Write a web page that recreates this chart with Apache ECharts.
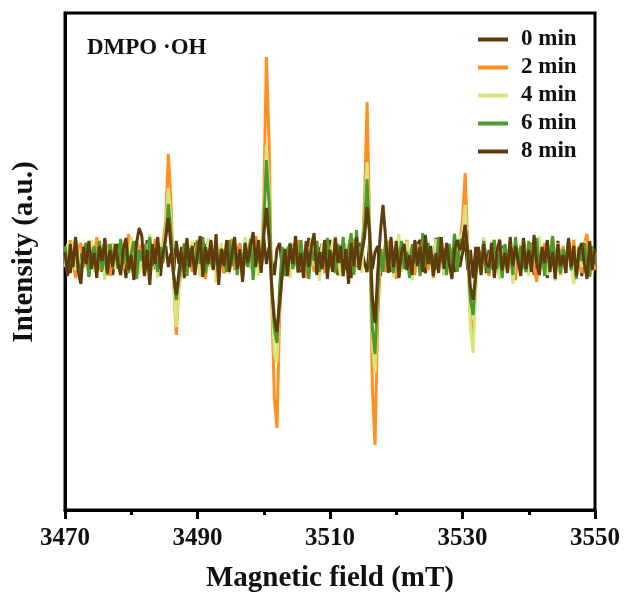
<!DOCTYPE html>
<html>
<head>
<meta charset="utf-8">
<script src="https://cdn.jsdelivr.net/npm/echarts@6/dist/echarts.min.js"></script>
<style>html,body{margin:0;padding:0;background:#fff;}#c{width:625px;height:601px;}</style>
</head>
<body>
<div id="c"></div>
<script>
// Magnetic field sweep grid (mT): start and step of the recorded points
var fieldStart = 3470;
var fieldStep = 0.4;
var xTicks = [3470, 3490, 3510, 3530, 3550];
var seriesNames = ['0 min', '2 min', '4 min', '6 min', '8 min'];

var min0 = [
-5,11,-15,8,18,-12,5,-9,15,-18,6,12,-8,3,-14,20,-6,9,-17,5,
14,-8,3,-20,11,6,-12,17,-5,9,-15,18,-3,8,-11,14,-18,6,12,-9,
5,-14,17,-6,11,-20,8,3,-12,15,-5,9,-17,14,-8,18,-3,-11,6,12,
-15,8,-5,18,-9,3,14,-18,6,-8,17,-12,9,5,-14,20,-6,11,-3,-17,
9,15,-11,5,-18,12,-6,8,17,-14,3,-9,20,-5,11,-15,6,14,-8,-3,
18,-12,5,-17,9,14,-6,3,-20,11,-9,15,8,-5,-14,17,-11,6,12,-18,
5,-8,15,-14,3,11,-18,9,-5,17,-12,6,-9,14,18,-6,-15,8,3,-11,
20,-5,9,-17,12,-3,6,-14,15,-9,5,18,-12,8,-20,11,-6,3,14,-15,
8,-11,17,-5,-18,12,3,-8,14,-15,6,9,-12,20,-3,-9,15,-17,5,11,
-6,14,-20,8,3,-12,17,-5,9,-15,18,-8,5,-11,12,-18,6,15,-9,3,
-8];

var min2 = [
8,-14,18,-5,-20,10,15,-9,4,-17,12,-3,21,-13,6,-8,14,-18,3,11,
-6,17,-11,5,24,-9,-16,8,13,-4,-18,14,6,-12,19,3,-8,16,36,104,
55,-25,-77,-30,-10,15,-6,10,-14,5,18,-11,8,-21,3,12,-5,16,-9,6,
-15,11,-3,19,-12,8,15,-18,5,-8,14,-4,22,9,-6,55,201,118,-40,-140,
-170,-55,-12,9,-17,6,14,-8,18,-11,5,-20,11,3,-14,17,-6,9,-15,8,
12,-9,21,-5,-18,8,14,-12,5,19,-8,11,-3,55,156,30,-130,-187,-60,-6,
9,-14,17,-8,5,-21,12,6,-11,18,-5,9,-17,14,3,-9,15,-12,6,-20,
11,-6,18,-14,5,12,-9,21,-3,14,38,85,10,-60,-80,-25,6,-12,16,-5,
-18,6,14,-11,19,-5,8,-15,12,3,-22,9,-6,17,-12,5,14,-9,-24,11,
-5,15,-14,8,20,-9,3,-17,12,-6,9,-3,18,-11,5,-15,14,24,-19,6,
-12];

var min4 = [
-9,14,-3,17,-12,6,-19,11,3,-8,18,-14,5,-6,12,-22,9,-2,15,-11,
8,-18,12,3,-9,21,-5,14,-16,6,11,-8,24,-12,5,-20,15,9,28,70,
38,-22,-69,-28,-5,12,-15,6,17,-9,3,-19,14,-6,20,-11,8,-25,5,15,
-8,12,-16,6,18,-5,9,-14,21,-3,-11,15,5,-18,8,35,113,70,-30,-95,
-105,-35,6,-14,11,-20,8,15,-9,5,-17,12,-3,19,-8,9,-23,14,-5,6,
-12,17,-6,11,-18,5,14,-9,21,-14,3,9,-15,40,96,22,-85,-115,-40,5,
-9,15,-5,12,-19,8,24,-14,3,17,-8,-22,11,5,-12,18,-6,14,-3,-9,
19,-12,6,-17,9,14,-6,25,-11,20,24,53,5,-70,-95,-30,6,-15,21,-8,
-5,17,-14,8,-21,3,12,-9,18,-26,6,-5,15,-11,9,-18,5,14,-8,22,
-12,3,-17,11,6,-23,15,-5,9,-14,19,-6,-26,8,12,-9,17,-3,11,-15,
5];

var min6 = [
12,-15,6,-9,18,-5,-14,9,15,-19,3,11,-8,17,-12,5,-17,14,-3,8,
-11,19,-6,9,-15,5,17,-21,8,-3,14,-12,21,-8,3,-14,11,-5,22,54,
25,-18,-42,-20,-8,14,-18,9,5,-12,17,-6,21,-15,8,-3,-11,15,-19,9,
5,-14,18,-8,12,-17,6,-5,15,-9,19,-22,11,3,-12,30,98,55,-25,-70,
-85,-30,11,-18,8,15,-11,5,-15,18,-6,12,-21,9,-3,17,-14,6,-8,20,
-9,5,-15,14,-5,21,-12,8,25,-17,28,-8,12,30,79,15,-70,-96,-35,9,
-14,18,-8,5,-15,12,-3,17,-11,6,-20,14,-5,9,-18,25,-9,15,-6,3,
-12,21,-5,9,-17,14,-8,24,-14,18,16,33,3,-42,-57,-18,5,-14,17,-6,
-15,8,18,-11,5,-20,14,-3,9,-17,21,-8,12,-5,-14,17,-9,6,20,-12,
8,-18,14,-6,22,-11,3,-15,9,-5,17,-12,6,-21,11,-3,15,-8,-18,12,
-6];

var min8 = [
6,-18,14,-9,21,-14,-26,11,-6,17,-11,5,-20,12,-3,18,-15,8,-9,14,
-5,-17,9,20,-12,3,-22,15,30,22,-18,8,-27,14,-6,21,-11,5,20,40,
12,-17,-37,-14,6,-14,20,-9,12,-17,3,22,-19,11,-6,17,-12,24,-27,9,
-8,18,-14,5,21,-11,9,-24,15,-5,12,26,-9,18,-15,22,50,20,-30,-60,
-74,-45,-15,9,-18,14,-6,22,-14,5,-20,17,-9,12,25,-17,6,-11,18,-21,
8,-14,20,-5,12,-18,9,-26,15,-8,21,-12,5,20,51,25,-40,-65,-15,25,
53,20,-15,21,-9,17,-20,6,14,-12,3,-17,18,-8,11,-14,23,-6,12,-18,
5,-15,21,-11,15,-5,-21,9,18,8,15,33,5,-30,-42,-15,11,-17,14,-6,
-9,15,-20,6,18,-12,5,-15,21,-8,12,-3,-18,17,-11,8,-14,23,-6,-17,
11,-5,18,-14,6,-21,14,-8,3,-15,20,-9,12,-18,8,15,-6,-21,17,-12,
9];

var colors = ['#5b3a0e', '#ff8f1f', '#d6e67c', '#4b9a2c', '#603c0c'];
var allData = [min0, min2, min4, min6, min8];

function pairs(arr) {
  return arr.map(function (v, i) { return [fieldStart + fieldStep * i, v]; });
}

var FONT = '"Liberation Serif", "Times New Roman", serif';
var chart = echarts.init(document.getElementById('c'), null, {renderer: 'canvas'});
var series = seriesNames.map(function (n, k) {
  return {
    name: n, type: 'line', data: pairs(allData[k]), showSymbol: false,
    lineStyle: {width: 3, color: colors[k]}, itemStyle: {color: colors[k]},
    animation: false
  };
});

chart.setOption({
  animation: false,
  backgroundColor: '#fff',
  grid: {left: 65, right: 30, top: 13, bottom: 91, show: true, borderColor: '#000', borderWidth: 3, containLabel: false},
  xAxis: {
    type: 'value', min: xTicks[0], max: xTicks[xTicks.length - 1], interval: 20,
    axisLine: {onZero: false, lineStyle: {color: '#000', width: 3}},
    axisTick: {show: true, inside: false, length: 9, lineStyle: {color: '#000', width: 3}},
    minorTick: {show: true, splitNumber: 2, length: 5, lineStyle: {color: '#000', width: 3}},
    splitLine: {show: false},
    axisLabel: {color: '#111', fontFamily: FONT, fontWeight: 'bold', fontSize: 25, margin: 16,
      formatter: function (v) { return String(v); }},
    name: 'Magnetic field (mT)', nameLocation: 'middle', nameGap: 54,
    nameTextStyle: {color: '#111', fontFamily: FONT, fontWeight: 'bold', fontSize: 29}
  },
  yAxis: {
    type: 'value', min: -252, max: 245,
    axisLine: {show: true, onZero: false, lineStyle: {color: '#000', width: 3}},
    axisTick: {show: false}, axisLabel: {show: false}, splitLine: {show: false}
  },
  legend: {
    orient: 'vertical', left: 473, top: 23, itemWidth: 30, itemHeight: 4, itemGap: 5,
    icon: 'rect',
    textStyle: {color: '#111', fontFamily: FONT, fontWeight: 'bold', fontSize: 23, padding: [0, 0, 0, 8]},
    data: seriesNames
  },
  graphic: [{
    type: 'text', left: 87, top: 37,
    style: {text: 'DMPO \u00B7OH', fill: '#111', font: 'bold 23px ' + FONT}
  }, {
    type: 'text', x: 25, y: 252, rotation: Math.PI / 2,
    style: {text: 'Intensity (a.u.)', fill: '#111', font: 'bold 29px ' + FONT, align: 'center', verticalAlign: 'middle'}
  }],
  series: series
});
</script>
</body>
</html>
